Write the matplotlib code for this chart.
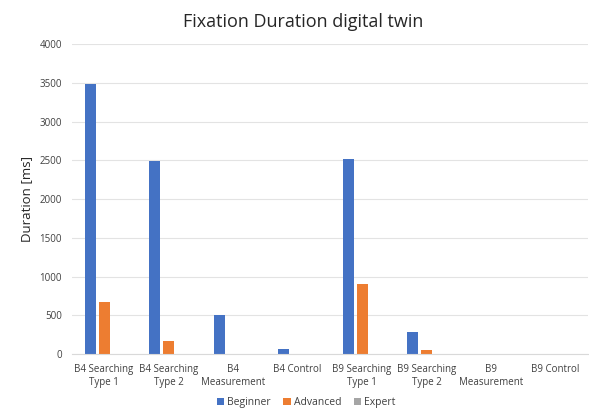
import matplotlib
matplotlib.use("Agg")
import matplotlib.pyplot as plt
import numpy as np

plt.rcParams["font.family"] = ["Open Sans", "DejaVu Sans"]

categories = ["B4 Searching\nType 1", "B4 Searching\nType 2", "B4\nMeasurement", "B4 Control",
              "B9 Searching\nType 1", "B9 Searching\nType 2", "B9\nMeasurement", "B9 Control"]
beginner = [3490, 2490, 510, 65, 2515, 290, 0, 0]
advanced = [675, 165, 0, 0, 910, 55, 0, 0]
expert = [0, 0, 0, 0, 0, 0, 0, 0]

fig = plt.figure(figsize=(5.89, 4.09), dpi=100)
ax = fig.add_axes([0.122, 0.134, 0.876, 0.758])

x = np.arange(len(categories))
w = 0.17
step = 0.215
ax.bar(x - step, beginner, w, color="#4472C4", label="Beginner")
ax.bar(x, advanced, w, color="#ED7D31", label="Advanced")
ax.bar(x + step, expert, w, color="#A5A5A5", label="Expert")

ax.set_xlim(-0.5, len(categories) - 0.5)
ax.set_ylim(0, 4000)
ax.set_yticks(range(0, 4001, 500))
ax.set_xticks(x)
ax.set_xticklabels(categories, fontsize=7, color="#404040")
ax.tick_params(axis="y", labelsize=7, colors="#404040", length=0, pad=7)
ax.tick_params(axis="x", length=0, pad=7)
ax.yaxis.grid(True, color="#E3E3E3", linewidth=0.8)
ax.set_axisbelow(True)
for s in ["top", "right", "left"]:
    ax.spines[s].set_visible(False)
ax.spines["bottom"].set_color("#D9D9D9")

ax.set_ylabel("Duration [ms]", fontsize=9.5, color="#262626", labelpad=5)
fig.suptitle("Fixation Duration digital twin", x=0.515, fontsize=13, color="#262626", y=0.968)

fig.legend(loc="lower center", bbox_to_anchor=(0.52, -0.02), ncol=3, frameon=False,
           fontsize=7.5, handlelength=0.7, handleheight=0.7, handletextpad=0.3,
           columnspacing=1.2, labelcolor="#404040")

fig.savefig("out.png", dpi=100)
